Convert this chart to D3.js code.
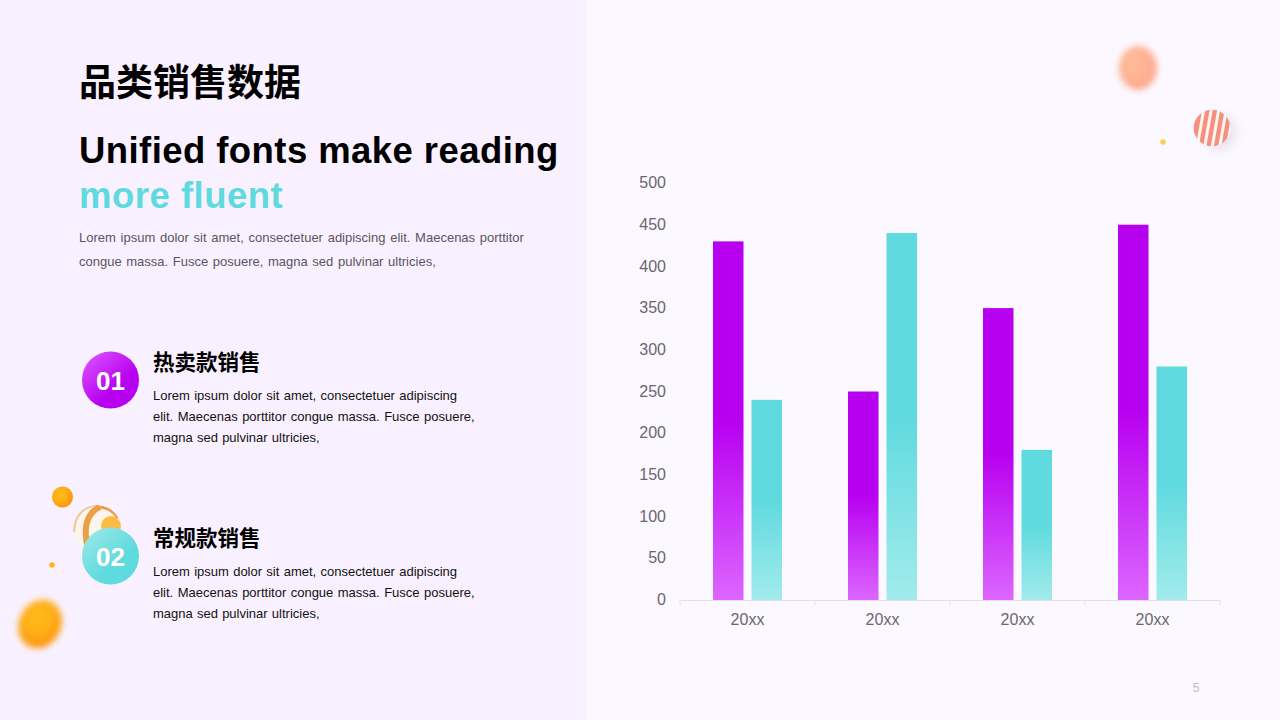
<!DOCTYPE html>
<html>
<head>
<meta charset="utf-8">
<script src="https://cdn.jsdelivr.net/npm/d3@7"></script>
<style>
    html, body { margin: 0; padding: 0; background: #fcf8ff; }
    svg { display: block; }
    text { font-family: "Liberation Sans", Arial, sans-serif; }
    .cjk { font-family: "Liberation Sans", "Noto Sans CJK SC", sans-serif; font-weight: 700; fill: #000; }
</style>
</head>
<body>
<svg id="chart" width="1280" height="720"></svg>
<script>
// chart values
const categories = ['20xx', '20xx', '20xx', '20xx'];
const seriesA = [430, 250, 350, 450];
const seriesB = [240, 440, 180, 280];
const yTicks = [0, 50, 100, 150, 200, 250, 300, 350, 400, 450, 500];

const svg = d3.select('#chart');
const defs = svg.append('defs');

function barGradient(id, solid, pale) {
    const g = defs.append('linearGradient').attr('id', id)
        .attr('x1', 0).attr('y1', 1).attr('x2', 0).attr('y2', 0);
    g.append('stop').attr('offset', '0%').attr('stop-color', pale);
    g.append('stop').attr('offset', '50%').attr('stop-color', solid);
    g.append('stop').attr('offset', '100%').attr('stop-color', solid);
}
barGradient('barA', '#b800f0', '#dc66ff');
barGradient('barB', '#5fdadf', '#a2ebeb');

function badgeGradient(id, from, to) {
    const g = defs.append('linearGradient').attr('id', id)
        .attr('x1', 0.1).attr('y1', 0.1).attr('x2', 0.6).attr('y2', 0.65);
    g.append('stop').attr('offset', '0%').attr('stop-color', from);
    g.append('stop').attr('offset', '100%').attr('stop-color', to);
}
badgeGradient('badge1', '#d84dff', '#b800f0');
badgeGradient('badge2', '#98e6e6', '#5fdadf');

function ballGradient(id, stops) {
    const g = defs.append('radialGradient').attr('id', id)
        .attr('cx', 0.4).attr('cy', 0.4).attr('r', 0.65);
    stops.forEach((c, i) => g.append('stop')
        .attr('offset', (i / (stops.length - 1) * 100) + '%').attr('stop-color', c));
}
ballGradient('ballOrange', ['#ffbc1e', '#ffb014', '#fd8f0c']);
ballGradient('ballPeach', ['#ffbb98', '#ffb492', '#fca48e']);

[['blur1', 0.7], ['blur3', 3.2], ['blur5', 5]].forEach(([id, s]) => {
    defs.append('filter').attr('id', id)
        .attr('x', '-50%').attr('y', '-50%').attr('width', '200%').attr('height', '200%')
        .append('feGaussianBlur').attr('stdDeviation', s);
});
defs.append('clipPath').attr('id', 'clipStriped')
    .append('circle').attr('cx', 1212).attr('cy', 128).attr('r', 18.5);
defs.append('clipPath').attr('id', 'clipCream')
    .append('circle').attr('cx', 97).attr('cy', 529).attr('r', 24);

// background panels
svg.append('rect').attr('width', 1280).attr('height', 720).attr('fill', '#fcf8ff');
svg.append('rect').attr('width', 586).attr('height', 720).attr('fill', '#f9f1ff');

// decoration balls
const deco = svg.append('g');
deco.append('circle').attr('cx', 62.5).attr('cy', 497).attr('r', 10.5).attr('fill', 'url(#ballOrange)').attr('filter', 'url(#blur1)');
deco.append('circle').attr('cx', 52).attr('cy', 565).attr('r', 2.8).attr('fill', '#ffb81c').attr('filter', 'url(#blur1)');
deco.append('ellipse').attr('cx', 40).attr('cy', 624).attr('rx', 21).attr('ry', 25)
    .attr('transform', 'rotate(25 40 624)').attr('fill', 'url(#ballOrange)').attr('filter', 'url(#blur3)');

// striped ball behind badge 02
const cream = deco.append('g').attr('clip-path', 'url(#clipCream)').append('g').attr('filter', 'url(#blur1)');
cream.append('circle').attr('cx', 97).attr('cy', 529).attr('r', 24).attr('fill', '#fbf5ee');
cream.append('path').attr('d', 'M74,532 Q75,508 97,505').attr('fill', 'none').attr('stroke', '#efc49a').attr('stroke-width', 2);
cream.append('path').attr('d', 'M88,550 Q80,516 100,507').attr('fill', 'none').attr('stroke', '#ea9f48').attr('stroke-width', 6);
cream.append('path').attr('d', 'M96,507 Q110,506 118,518').attr('fill', 'none').attr('stroke', '#e8a050').attr('stroke-width', 3);
deco.append('circle').attr('cx', 111).attr('cy', 526).attr('r', 10).attr('fill', '#f9bd45').attr('filter', 'url(#blur1)');

deco.append('ellipse').attr('cx', 1138).attr('cy', 68).attr('rx', 19).attr('ry', 22).attr('fill', 'url(#ballPeach)').attr('filter', 'url(#blur3)');
deco.append('circle').attr('cx', 1163).attr('cy', 142).attr('r', 2.8).attr('fill', '#fbd24e').attr('filter', 'url(#blur1)');
deco.append('circle').attr('cx', 1219).attr('cy', 132).attr('r', 18).attr('fill', '#e2dcea').attr('opacity', 0.7).attr('filter', 'url(#blur5)');
const striped = deco.append('g').attr('clip-path', 'url(#clipStriped)').append('g').attr('filter', 'url(#blur1)');
striped.append('circle').attr('cx', 1212).attr('cy', 128).attr('r', 18.5).attr('fill', '#f5907f');
d3.range(5).forEach(i => {
    striped.append('line')
        .attr('x1', 1197 + i * 7.5).attr('y1', 148)
        .attr('x2', 1204 + i * 7.5).attr('y2', 108)
        .attr('stroke', '#fff6f2').attr('stroke-width', 3);
});

// heading block
svg.append('text').attr('class', 'cjk').attr('x', 79).attr('y', 96).attr('font-size', 37).text('品类销售数据');
svg.append('text').attr('x', 79).attr('y', 163).attr('font-size', 36.5).attr('font-weight', 700)
    .attr('fill', '#000').attr('letter-spacing', 0.43).text('Unified fonts make reading');
svg.append('text').attr('x', 79).attr('y', 208).attr('font-size', 36.5).attr('font-weight', 700)
    .attr('fill', '#5fdadf').attr('letter-spacing', 0.5).text('more fluent');

function paragraph(lines, x, y, lineH, color, size) {
    lines.forEach((l, i) => {
        svg.append('text').attr('x', x).attr('y', y + i * lineH)
            .attr('font-size', size).attr('fill', color)
            .attr('word-spacing', l[1]).text(l[0]);
    });
}
paragraph([
    ['Lorem ipsum dolor sit amet, consectetuer adipiscing elit. Maecenas porttitor', 1.1],
    ['congue massa. Fusce posuere, magna sed pulvinar ultricies,', 1]
], 79, 242, 24, '#5a5560', 13);

// list items
const items = [
    { y: 380, grad: 'badge1', num: '01', title: '热卖款销售' },
    { y: 556, grad: 'badge2', num: '02', title: '常规款销售' }
];
items.forEach(d => {
    svg.append('circle').attr('cx', 110.5).attr('cy', d.y).attr('r', 28.5).attr('fill', `url(#${d.grad})`);
    svg.append('text').attr('x', 110.5).attr('y', d.y + 9.5).attr('text-anchor', 'middle')
        .attr('font-size', 26).attr('font-weight', 700).attr('fill', '#fff').text(d.num);
    svg.append('text').attr('class', 'cjk').attr('x', 153).attr('y', d.y - 10).attr('font-size', 21.5).text(d.title);
    paragraph([
        ['Lorem ipsum dolor sit amet, consectetuer adipiscing', 0.7],
        ['elit. Maecenas porttitor congue massa. Fusce posuere,', 0.85],
        ['magna sed pulvinar ultricies,', 0.6]
    ], 153, d.y + 20, 21, '#111', 13);
});

// chart
const x = d3.scaleBand().domain(d3.range(categories.length)).range([680, 1220]);
const y = d3.scaleLinear().domain([0, 500]).range([600, 183]);
const barW = 30.5, barGap = 8;

const groups = svg.append('g').selectAll('g')
    .data(categories.map((c, i) => ({ a: seriesA[i], b: seriesB[i], i })))
    .enter().append('g')
    .attr('transform', d => `translate(${x(d.i) + x.bandwidth() / 2}, 0)`);

groups.append('rect')
    .attr('x', -barGap / 2 - barW).attr('width', barW)
    .attr('y', d => y(d.a)).attr('height', d => y(0) - y(d.a))
    .attr('fill', 'url(#barA)');
groups.append('rect')
    .attr('x', barGap / 2).attr('width', barW)
    .attr('y', d => y(d.b)).attr('height', d => y(0) - y(d.b))
    .attr('fill', 'url(#barB)');

const xAxis = d3.axisBottom(x).tickSize(0).tickPadding(13.5).tickFormat(i => categories[i]);
const gx = svg.append('g').attr('transform', 'translate(0,600)').call(xAxis);
gx.select('.domain').attr('stroke', '#e4dfe8').attr('stroke-width', 1.2);
gx.selectAll('text').attr('font-size', 16).attr('fill', '#6b6670')
    .style('font-family', '"Liberation Sans", Arial, sans-serif');
// boundary ticks between categories
gx.selectAll('.sep').data(d3.range(categories.length + 1)).enter().append('line')
    .attr('class', 'sep')
    .attr('x1', i => 680 + i * x.bandwidth()).attr('x2', i => 680 + i * x.bandwidth())
    .attr('y1', 0).attr('y2', 5).attr('stroke', '#e4dfe8');

const yAxis = d3.axisLeft(y).tickValues(yTicks).tickSize(0).tickPadding(14);
const gy = svg.append('g').attr('transform', 'translate(680,-0.5)').call(yAxis);
gy.select('.domain').remove();
gy.selectAll('text').attr('font-size', 16).attr('fill', '#6b6670')
    .style('font-family', '"Liberation Sans", Arial, sans-serif');

svg.append('text').attr('x', 1196).attr('y', 692).attr('text-anchor', 'middle')
    .attr('font-size', 12).attr('fill', '#c0bcc6').text('5');
</script>
</body>
</html>
